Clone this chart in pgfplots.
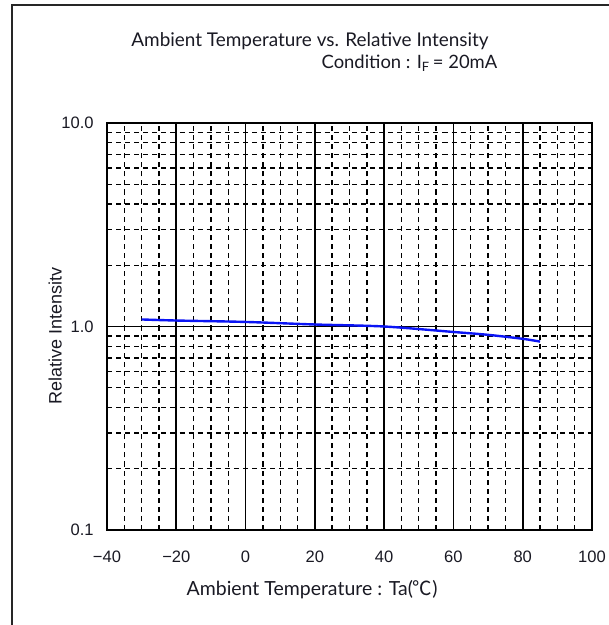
\documentclass[border=0pt]{standalone}
\usepackage{fontspec}
\usepackage{pgfplots}
\pgfplotsset{compat=1.18}
\setmainfont{Lato}
\newfontfamily\arialf{Liberation Sans}
\newfontfamily\cjk{Noto Sans CJK JP}
\definecolor{curveblue}{RGB}{10,20,245}
\definecolor{txt}{RGB}{25,25,35}
\begin{document}
\begin{tikzpicture}
\path[use as bounding box] (0,0) rectangle (456pt,468.75pt);
\draw[line width=1.2pt,black!85] (9pt,-5pt) -- (9pt,465pt) -- (470pt,465pt);
\node[anchor=base,font=\fontsize{14.2}{16}\selectfont,text=txt] at (232.5pt,433.7pt) {Ambient Temperature vs. Relative Intensity};
\node[anchor=base east,font=\fontsize{13.8}{16}\selectfont,text=txt] at (376.5pt,417.5pt) {Condition : I\textsubscript{F}\,= 20mA};
\begin{axis}[
  at={(80.25pt,71.25pt)}, anchor=south west,
  scale only axis, width=363.75pt, height=305.25pt,
  ymode=log, xmin=-40, xmax=100, ymin=0.1, ymax=10,
  xtick={-40,-20,0,20,40,60,80,100},
  xticklabels={−40,−20,0,20,40,60,80,100},
  minor xtick={-35,-30,-25,-15,-10,-5,5,10,15,25,30,35,45,50,55,65,70,75,85,90,95},
  ytick={0.1,1,10},
  yticklabels={0.1,1.0,10.0},
  minor ytick={0.2,0.3,0.4,0.5,0.6,0.7,0.8,0.9,2,3,4,5,6,7,8,9},
  major tick length=0pt, minor tick length=0pt,
  xmajorgrids, ymajorgrids, xminorgrids, yminorgrids,
  major grid style={line width=1.35pt,black},
  minor grid style={line width=1.05pt,black,dash pattern=on 3.8pt off 3pt},
  axis line style={line width=1.35pt,black},
  ticklabel style={font=\arialf\fontsize{12.4}{14}\selectfont,text=txt},
  yticklabel style={xshift=-6.5pt},
  xticklabel style={yshift=-12.5pt},
  xlabel={Ambient Temperature : Ta({\cjk ℃})},
  ylabel={Relative Intensitv},
  xlabel style={font=\fontsize{14.6}{16}\selectfont,text=txt,at={(axis description cs:0.423,-0.147)},anchor=center},
  ylabel style={font=\arialf\fontsize{13.5}{15}\selectfont,text=txt,at={(axis description cs:-0.107,0.477)},anchor=center,rotate=0},
  clip=false,
]
\addplot[curveblue, line width=1.8pt, smooth] coordinates {
(-30,1.083) (-20,1.07) (0,1.053) (20,1.023) (40,1.0) (60,0.94) (70,0.91) (80,0.87) (85,0.843)
};
\end{axis}
\end{tikzpicture}
\end{document}
